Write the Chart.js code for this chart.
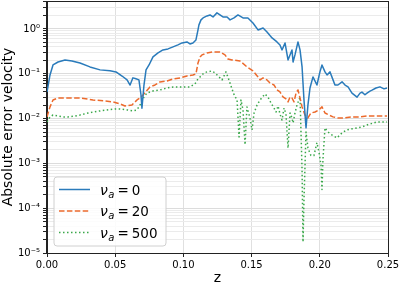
<!DOCTYPE html>
<html>
<head>
<meta charset="utf-8">
<script src="https://cdn.jsdelivr.net/npm/chart.js@4.4.1/dist/chart.umd.min.js"></script>
<style>
  body { margin: 0; background: #fff; }
  canvas { display: block; }
</style>
</head>
<body>
<canvas id="myChart" width="399" height="287"></canvas>
<script>
// nu_a values used for the three runs
var nuValues = ["0", "20", "500"];

// nu_a = 0
var z0 = [0, 0.0022, 0.0044, 0.0081, 0.0132, 0.0183, 0.0242, 0.0315, 0.0389, 0.0462, 0.0506, 0.0550,
    0.0587, 0.0609, 0.0630, 0.0652, 0.0674, 0.0689, 0.0696, 0.0711, 0.0726, 0.0748, 0.0777, 0.0814,
    0.0850, 0.0887, 0.0924, 0.0960, 0.0990, 0.1026, 0.1048, 0.1070, 0.1092, 0.1107, 0.1114, 0.1129,
    0.1144, 0.1173, 0.1195, 0.1217, 0.1246, 0.1268, 0.1290, 0.1320, 0.1342, 0.1371, 0.1400, 0.1437,
    0.1473, 0.1510, 0.1547, 0.1584, 0.1613, 0.1650, 0.1686, 0.1708, 0.1723, 0.1745, 0.1767, 0.1796,
    0.1804, 0.1818, 0.1840, 0.1855, 0.1870, 0.1884, 0.1899, 0.1913, 0.1928, 0.1950, 0.1979, 0.2001,
    0.2016, 0.2038, 0.2053, 0.2075, 0.2097, 0.2111, 0.2133, 0.2163, 0.2185, 0.2207, 0.2236, 0.2273,
    0.2295, 0.2309, 0.2331, 0.2346, 0.2368, 0.2383, 0.2412, 0.2441, 0.2471, 0.2493];
var err0 = [0.039, 0.094, 0.157, 0.183, 0.203, 0.193, 0.174, 0.142, 0.122, 0.116, 0.110, 0.089,
    0.073, 0.056, 0.081, 0.077, 0.073, 0.034, 0.017, 0.056, 0.122, 0.157, 0.237, 0.291,
    0.340, 0.358, 0.397, 0.440, 0.487, 0.513, 0.463, 0.487, 0.568, 0.950, 1.23, 1.59,
    1.76, 1.95, 2.05, 1.85, 2.28, 2.05, 1.85, 1.85, 1.59, 1.76, 2.05, 1.76,
    1.76, 1.36, 0.950, 1.05, 0.857, 0.630, 0.513, 0.440, 0.340, 0.487, 0.203, 0.340,
    0.183, 0.263, 0.513, 0.340, 0.142, 0.026, 0.0062, 0.020, 0.048, 0.085, 0.056, 0.110,
    0.157, 0.110, 0.094, 0.110, 0.073, 0.056, 0.056, 0.066, 0.056, 0.051, 0.037, 0.030,
    0.037, 0.039, 0.034, 0.037, 0.041, 0.043, 0.048, 0.051, 0.046, 0.048];

// nu_a = 20
var z20 = [0, 0.0022, 0.0044, 0.0081, 0.0117, 0.0169, 0.0242, 0.0337, 0.0425, 0.0484, 0.0535, 0.0572,
    0.0623, 0.0660, 0.0682, 0.0704, 0.0755, 0.0792, 0.0828, 0.0880, 0.0924, 0.0975, 0.1026, 0.1070,
    0.1092, 0.1107, 0.1122, 0.1136, 0.1173, 0.1217, 0.1268, 0.1305, 0.1327, 0.1356, 0.1415, 0.1466,
    0.1510, 0.1547, 0.1562, 0.1584, 0.1613, 0.1635, 0.1664, 0.1686, 0.1708, 0.1730, 0.1752, 0.1767,
    0.1782, 0.1796, 0.1811, 0.1826, 0.1840, 0.1855, 0.1870, 0.1891, 0.1913, 0.1935, 0.1965, 0.1994,
    0.2016, 0.2038, 0.2067, 0.2097, 0.2133, 0.2170, 0.2243, 0.2295, 0.2346, 0.2419, 0.2493];
var err20 = [0.0109, 0.0182, 0.026, 0.0288, 0.0288, 0.0288, 0.0288, 0.026, 0.0247, 0.0235, 0.0212, 0.0191,
    0.0201, 0.026, 0.0288, 0.0336, 0.0507, 0.0562, 0.0656, 0.0691, 0.0766, 0.0806, 0.0893, 0.094,
    0.099, 0.174, 0.237, 0.263, 0.291, 0.307, 0.307, 0.263, 0.214, 0.203, 0.193, 0.142,
    0.1155, 0.0849, 0.0728, 0.0806, 0.0728, 0.0623, 0.0562, 0.0435, 0.0392, 0.0303, 0.0274, 0.0235,
    0.0303, 0.0288, 0.0235, 0.0373, 0.0435, 0.0288, 0.0182, 0.012, 0.0103, 0.0133, 0.014, 0.0156,
    0.0182, 0.0133, 0.012, 0.0109, 0.0103, 0.0103, 0.0109, 0.0109, 0.0114, 0.0114, 0.0114];

// nu_a = 500
var z500 = [0, 0.0022, 0.0044, 0.0081, 0.0117, 0.0154, 0.0205, 0.0242, 0.0301, 0.0337, 0.0389, 0.0440,
    0.0499, 0.0535, 0.0587, 0.0630, 0.0660, 0.0682, 0.0711, 0.0733, 0.0777, 0.0828, 0.0880, 0.0924,
    0.0975, 0.1048, 0.1085, 0.1107, 0.1122, 0.1151, 0.1173, 0.1210, 0.1232, 0.1254, 0.1283, 0.1312,
    0.1334, 0.1349, 0.1364, 0.1378, 0.1393, 0.1408, 0.1422, 0.1437, 0.1452, 0.1466, 0.1488, 0.1503,
    0.1518, 0.1540, 0.1562, 0.1598, 0.1620, 0.1642, 0.1664, 0.1679, 0.1694, 0.1708, 0.1723, 0.1738,
    0.1752, 0.1767, 0.1782, 0.1796, 0.1804, 0.1818, 0.1833, 0.1855, 0.1870, 0.1877, 0.1884, 0.1899,
    0.1913, 0.1935, 0.1957, 0.1979, 0.1994, 0.2009, 0.2016, 0.2023, 0.2038, 0.2060, 0.2089, 0.2126,
    0.2163, 0.2199, 0.2236, 0.2273, 0.2309, 0.2346, 0.2383, 0.2419, 0.2456, 0.2493];
var err500 = [0.0084, 0.0109, 0.012, 0.0114, 0.0109, 0.0109, 0.0114, 0.012, 0.0133, 0.014, 0.0148, 0.0156,
    0.0164, 0.0164, 0.0156, 0.0148, 0.0156, 0.0201, 0.0303, 0.0373, 0.0413, 0.0435, 0.0482, 0.0507,
    0.0507, 0.0507, 0.0592, 0.0766, 0.0849, 0.104, 0.110, 0.1155, 0.104, 0.0893, 0.0728, 0.110,
    0.0728, 0.0534, 0.0392, 0.0303, 0.0274, 0.0039, 0.026, 0.0156, 0.0026, 0.0182, 0.0103, 0.0056,
    0.0133, 0.0201, 0.026, 0.0354, 0.0303, 0.0223, 0.0172, 0.014, 0.0191, 0.0127, 0.0093, 0.0172,
    0.0127, 0.0022, 0.0133, 0.0103, 0.008, 0.0133, 0.0201, 0.0303, 0.0007, 0.0000176, 0.00015, 0.005,
    0.0022, 0.0015, 0.0015, 0.0029, 0.0018, 0.0009, 0.00026, 0.0012, 0.0062, 0.005, 0.0043, 0.0037,
    0.0048, 0.0056, 0.0059, 0.0062, 0.0065, 0.0072, 0.0078, 0.0084, 0.0084, 0.0084];

var xTicks = [0, 0.05, 0.10, 0.15, 0.20, 0.25];
var yMin = 1e-5, yMax = 4.2;

var FONT = "'DejaVu Sans', sans-serif";

function toPoints(zs, errs) {
    return zs.map(function (z, i) { return {x: z, y: errs[i]}; });
}

function isDecade(v) {
    var l = Math.log10(v);
    return Math.abs(l - Math.round(l)) < 1e-9;
}

var supMap = {"-": "\u207B", "0": "\u2070", "1": "\u00B9", "2": "\u00B2", "3": "\u00B3",
    "4": "\u2074", "5": "\u2075", "6": "\u2076", "7": "\u2077", "8": "\u2078", "9": "\u2079"};
function sup(s) {
    return String(s).split("").map(function (c) { return supMap[c]; }).join("");
}

// no extra room for half tick labels, the layout padding handles it
function noPad(scale) {
    scale.paddingTop = 0;
    scale.paddingBottom = 0;
    scale.paddingLeft = 0;
    scale.paddingRight = 0;
}

// black frame on all four sides of the plot
var frame = {
    id: 'frame',
    afterDatasetsDraw: function (chart) {
        var a = chart.chartArea, ctx = chart.ctx;
        ctx.save();
        ctx.strokeStyle = '#222';
        ctx.lineWidth = 1;
        ctx.strokeRect(Math.round(a.left) - 0.5, Math.round(a.top) + 0.5,
            Math.round(a.right - a.left) + 1, Math.round(a.bottom - a.top));
        ctx.restore();
    }
};

// legend in the lower left corner of the plot, matplotlib style
var legendBox = {
    id: 'legendBox',
    afterDraw: function (chart) {
        var ctx = chart.ctx, a = chart.chartArea;
        var w = 112, h = 69;
        var x0 = a.left + 7, y0 = a.bottom - 7 - h, r = 3;
        ctx.save();
        ctx.beginPath();
        ctx.moveTo(x0 + r, y0);
        ctx.arcTo(x0 + w, y0, x0 + w, y0 + h, r);
        ctx.arcTo(x0 + w, y0 + h, x0, y0 + h, r);
        ctx.arcTo(x0, y0 + h, x0, y0, r);
        ctx.arcTo(x0, y0, x0 + w, y0, r);
        ctx.closePath();
        ctx.fillStyle = 'rgba(255,255,255,0.85)';
        ctx.fill();
        ctx.strokeStyle = '#d0d0d0';
        ctx.lineWidth = 1;
        ctx.stroke();

        chart.data.datasets.forEach(function (ds, i) {
            var y = y0 + 12.5 + i * 21.5;
            ctx.beginPath();
            ctx.setLineDash(ds.borderDash || []);
            ctx.strokeStyle = ds.borderColor;
            ctx.lineWidth = ds.borderWidth;
            ctx.moveTo(x0 + 5, y);
            ctx.lineTo(x0 + 36, y);
            ctx.stroke();
            ctx.setLineDash([]);

            ctx.fillStyle = '#000';
            ctx.textBaseline = 'alphabetic';
            ctx.textAlign = 'left';
            var tx = x0 + 46, base = y + 5;
            ctx.font = 'italic 14px ' + FONT;
            ctx.fillText('\u03BD', tx, base);
            tx += ctx.measureText('\u03BD').width + 0.5;
            ctx.font = 'italic 10px ' + FONT;
            ctx.fillText('a', tx, base + 3);
            tx += ctx.measureText('a').width + 3;
            ctx.font = '13.5px ' + FONT;
            ctx.fillText('=', tx, base);
            tx += ctx.measureText('=').width + 3;
            ctx.fillText(nuValues[i], tx, base);
        });
        ctx.restore();
    }
};

var ctx = document.getElementById("myChart").getContext("2d");
var chartLine = new Chart(ctx, {
    type: 'line',
    data: {
        datasets: [
            {
                label: "\u03BD_a = " + nuValues[0],
                data: toPoints(z0, err0),
                borderColor: "#2a7bbb",
                borderWidth: 1.5
            },
            {
                label: "\u03BD_a = " + nuValues[1],
                data: toPoints(z20, err20),
                borderColor: "#ec6a2c",
                borderWidth: 1.5,
                borderDash: [5.5, 2.4]
            },
            {
                label: "\u03BD_a = " + nuValues[2],
                data: toPoints(z500, err500),
                borderColor: "#3aa84a",
                borderWidth: 1.5,
                borderDash: [1.5, 2.5]
            }
        ]
    },
    options: {
        responsive: false,
        animation: false,
        devicePixelRatio: 1,
        layout: {padding: {top: 1, right: 11, left: 0, bottom: 0}},
        elements: {
            point: {radius: 0},
            line: {tension: 0, borderCapStyle: 'butt', borderJoinStyle: 'round'}
        },
        plugins: {
            legend: {display: false},
            tooltip: {enabled: false}
        },
        scales: {
            x: {
                type: 'linear',
                min: 0,
                max: 0.25,
                afterBuildTicks: function (scale) {
                    scale.ticks = xTicks.map(function (v) { return {value: v}; });
                },
                afterFit: function (scale) { scale.height = 34; noPad(scale); },
                ticks: {
                    color: '#000',
                    font: {family: FONT, size: 10},
                    padding: 2,
                    maxRotation: 0,
                    callback: function (v) { return v.toFixed(2); }
                },
                grid: {color: '#e0e0e0', tickColor: '#222', tickLength: 4},
                border: {display: true, color: '#222', width: 1},
                title: {
                    display: true,
                    text: 'z',
                    color: '#000',
                    font: {family: FONT, size: 14},
                    padding: {top: 0, bottom: 0}
                }
            },
            y: {
                type: 'logarithmic',
                min: yMin,
                max: yMax,
                afterBuildTicks: function (scale) {
                    var t = [];
                    for (var e = -5; e <= 0; e++) {
                        for (var m = 1; m <= 9; m++) {
                            var v = m * Math.pow(10, e);
                            if (v <= yMax) t.push({value: v});
                        }
                    }
                    scale.ticks = t;
                },
                afterFit: function (scale) { scale.width = 47; noPad(scale); },
                ticks: {
                    autoSkip: false,
                    color: '#000',
                    font: {family: FONT, size: 10},
                    padding: 3,
                    callback: function (v) {
                        if (!isDecade(v)) return '';
                        return '10' + sup(Math.round(Math.log10(v)));
                    }
                },
                grid: {
                    color: function (c) {
                        return c.tick && isDecade(c.tick.value) ? '#dcdcdc' : '#ebebeb';
                    },
                    tickColor: '#222',
                    tickLength: 4
                },
                border: {display: true, color: '#222', width: 1},
                title: {
                    display: true,
                    text: 'Absolute error velocity',
                    color: '#000',
                    font: {family: FONT, size: 14},
                    padding: {top: 0, bottom: 0}
                }
            }
        }
    },
    plugins: [frame, legendBox]
});
</script>
</body>
</html>
